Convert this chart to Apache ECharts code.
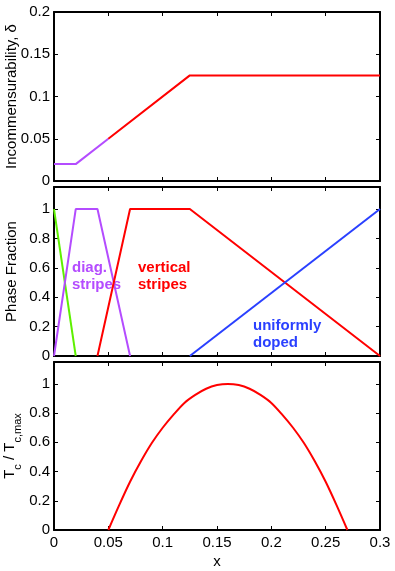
<!DOCTYPE html>
<html>
<head>
<meta charset="utf-8">
<script src="https://cdn.jsdelivr.net/npm/echarts@6/dist/echarts.min.js"></script>
<style>
  html, body { margin: 0; padding: 0; background: #fff; }
  #chart { width: 395px; height: 571px; }
</style>
</head>
<body>
<div id="chart"></div>
<script>
  // panel 1: incommensurability
  const deltaPurpleX = [0, 0.02, 0.05]
  const deltaPurpleY = [0.02, 0.02, 0.05]
  const deltaRedX = [0.05, 0.125, 0.3]
  const deltaRedY = [0.05, 0.125, 0.125]

  // panel 2: phase fractions
  const greenX = [0, 0.02]
  const greenY = [1, 0]
  const diagX = [0, 0.02, 0.04, 0.07]
  const diagY = [0, 1, 1, 0]
  const vertX = [0.04, 0.07, 0.125, 0.3]
  const vertY = [0, 1, 1, 0]
  const uniX = [0.125, 0.3]
  const uniY = [0, 1]

  // panel 3: Tc / Tc,max
  const tcX = [0.05, 0.06, 0.07, 0.08, 0.09, 0.10, 0.11, 0.12, 0.13, 0.14, 0.15, 0.16,
               0.17, 0.18, 0.19, 0.20, 0.21, 0.22, 0.23, 0.24, 0.25, 0.26, 0.27]
  const tcY = [0, 0.17, 0.33, 0.47, 0.595, 0.70, 0.79, 0.87, 0.925, 0.967, 0.992, 1,
               0.992, 0.967, 0.925, 0.87, 0.79, 0.70, 0.595, 0.47, 0.33, 0.17, 0]

  const purple = '#b44cff'
  const red = '#ff0000'
  const green = '#5ef000'
  const blue = '#2a40ff'
  const font = 'Liberation Sans'

  const zip = (xs, ys) => xs.map((x, i) => [x, ys[i]])

  const line = (name, xs, ys, color, idx, smooth) => ({
    name: name, type: 'line', xAxisIndex: idx, yAxisIndex: idx,
    data: zip(xs, ys), showSymbol: false, smooth: smooth || false,
    lineStyle: { color: color, width: 2 }, animation: false
  })

  const grids = [
    { left: 54, width: 326, top: 12, height: 169, outerBoundsMode: 'none', containLabel: false },
    { left: 54, width: 326, top: 187, height: 169, outerBoundsMode: 'none', containLabel: false },
    { left: 54, width: 326, top: 362, height: 168, outerBoundsMode: 'none', containLabel: false }
  ]

  const axisLine = { show: true, onZero: false, lineStyle: { color: '#000', width: 2 } }
  const tick = { show: true, inside: true, length: 4, lineStyle: { color: '#000', width: 1 } }

  const xAxes = []
  for (let i = 0; i < 3; i++) {
    xAxes.push({
      type: 'value', gridIndex: i, position: 'bottom', min: 0, max: 0.3, interval: 0.05,
      axisLine: axisLine, axisTick: tick, splitLine: { show: false },
      axisLabel: { show: i === 2, color: '#000', fontSize: 15, fontFamily: font, margin: 5 },
      name: i === 2 ? 'x' : '', nameLocation: 'middle', nameGap: 24, nameMoveOverlap: false,
      nameTextStyle: { color: '#000', fontSize: 15, fontFamily: font }
    })
  }
  for (let i = 0; i < 3; i++) {
    xAxes.push({
      type: 'value', gridIndex: i, position: 'top', min: 0, max: 0.3, interval: 0.05,
      axisLine: axisLine, axisTick: tick, splitLine: { show: false }, axisLabel: { show: false }
    })
  }

  const yMax = [0.2, 1.15, 1.15]
  const yStep = [0.05, 0.2, 0.2]
  const yNames = ['Incommensurability, δ', 'Phase Fraction',
                  '{a|T}{s|c}{a| / T}{s|c,max}']
  const yAxes = []
  for (let i = 0; i < 3; i++) {
    yAxes.push({
      type: 'value', gridIndex: i, position: 'left', min: 0, max: yMax[i], interval: yStep[i],
      axisLine: axisLine, axisTick: tick, splitLine: { show: false },
      axisLabel: { color: '#000', fontSize: 15, fontFamily: font, margin: 4, showMaxLabel: i === 0 },
      name: yNames[i], nameLocation: 'middle', nameGap: i === 2 ? 31 : 35, nameMoveOverlap: false,
      nameTextStyle: {
        color: '#000', fontSize: 15, fontFamily: font,
        rich: {
          a: { fontSize: 15, fontFamily: font, color: '#000', lineHeight: 21, verticalAlign: 'top' },
          s: { fontSize: 11, fontFamily: font, color: '#000', lineHeight: 21, verticalAlign: 'bottom' }
        }
      }
    })
  }
  for (let i = 0; i < 3; i++) {
    yAxes.push({
      type: 'value', gridIndex: i, position: 'right', min: 0, max: yMax[i], interval: yStep[i],
      axisLine: axisLine, axisTick: tick, splitLine: { show: false }, axisLabel: { show: false }
    })
  }

  const chart = echarts.init(document.getElementById('chart'))
  chart.setOption({
    backgroundColor: '#fff',
    animation: false,
    grid: grids,
    xAxis: xAxes,
    yAxis: yAxes,
    series: [
      line('delta diag', deltaPurpleX, deltaPurpleY, purple, 0),
      line('delta vert', deltaRedX, deltaRedY, red, 0),
      line('green', greenX, greenY, green, 1),
      line('diag. stripes', diagX, diagY, purple, 1),
      line('vertical stripes', vertX, vertY, red, 1),
      line('uniformly doped', uniX, uniY, blue, 1),
      line('Tc', tcX, tcY, red, 2, 0.3)
    ],
    graphic: [
      { type: 'text', style: { text: 'diag.\nstripes', x: 72, y: 259, fill: purple,
        fontSize: 15, fontWeight: 'bold', fontFamily: font, lineHeight: 17 } },
      { type: 'text', style: { text: 'vertical\nstripes', x: 138, y: 259, fill: red,
        fontSize: 15, fontWeight: 'bold', fontFamily: font, lineHeight: 17 } },
      { type: 'text', style: { text: 'uniformly\ndoped', x: 253, y: 317, fill: blue,
        fontSize: 15, fontWeight: 'bold', fontFamily: font, lineHeight: 17 } }
    ]
  })
</script>
</body>
</html>
